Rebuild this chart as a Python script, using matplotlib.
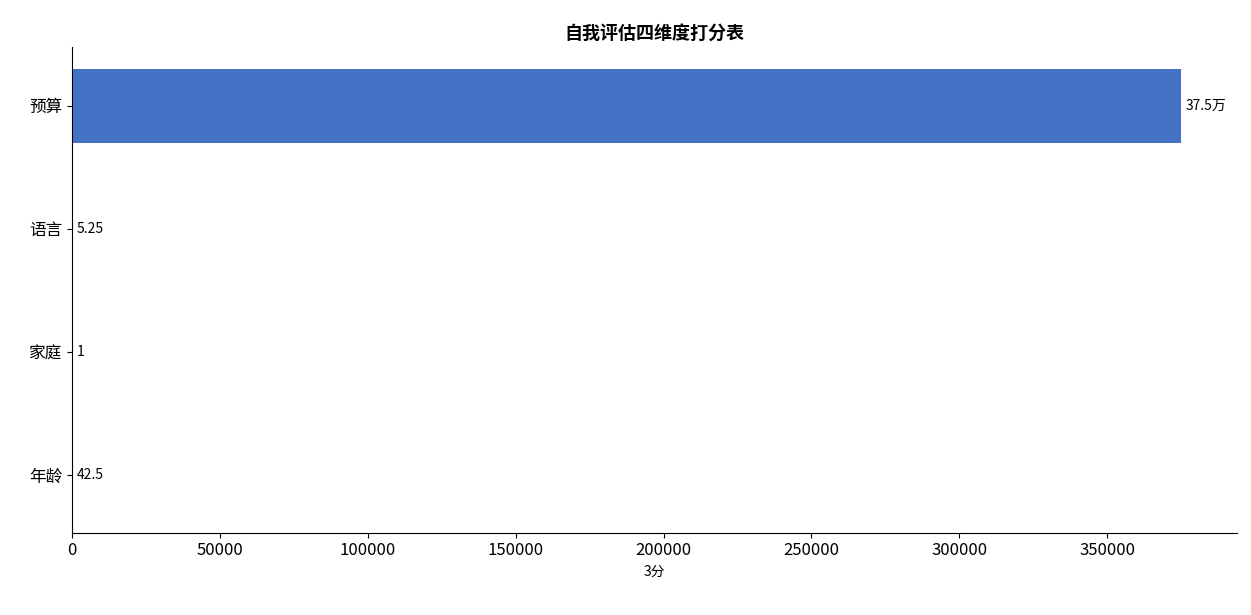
import matplotlib.pyplot as plt

plt.rcParams['font.family'] = ['Noto Sans CJK SC', 'DejaVu Sans']

categories = ['年龄', '家庭', '语言', '预算']
values = [42.5, 1, 5.25, 375000]
labels = ['42.5', '1', '5.25', '37.5万']

fig, ax = plt.subplots(figsize=(12.51, 6.15), dpi=100)
bars = ax.barh(categories, values, height=0.6, color='#4472C4')
for b, t in zip(bars, labels):
    ax.text(b.get_width() + 1500, b.get_y() + b.get_height() / 2, t,
            va='center', ha='left', fontsize=10)

ax.set_xlim(0, 394000)
ax.set_ylim(-0.47, 3.48)
ax.set_title('自我评估四维度打分表', fontsize=13, fontweight='bold')
ax.set_xlabel('3分', fontsize=10)
ax.tick_params(labelsize=12)
ax.spines['top'].set_visible(False)
ax.spines['right'].set_visible(False)

plt.subplots_adjust(left=0.0576, right=0.989, top=0.924, bottom=0.134)
plt.savefig('out.png')
